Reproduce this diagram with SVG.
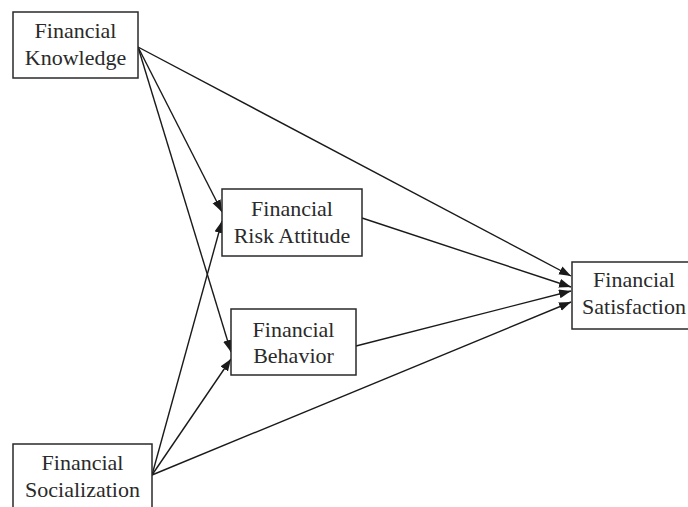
<svg xmlns="http://www.w3.org/2000/svg" width="688" height="507" viewBox="0 0 688 507">
<style>
.box{fill:#fff;stroke:#2a2a2a;stroke-width:1.5}
.t{font-family:"Liberation Serif","Times New Roman",serif;font-size:22px;fill:#2a2a2a;text-anchor:middle}
.c{stroke:#1a1a1a;stroke-width:1.4;fill:none;marker-end:url(#ah)}
</style>
<defs>
<marker id="ah" markerUnits="userSpaceOnUse" markerWidth="13" markerHeight="10" refX="12" refY="4.5" orient="auto">
<path d="M0,0 L12,4.5 L0,9 z" fill="#1a1a1a"/>
</marker>
</defs>
<rect width="688" height="507" fill="#fff"/>
<g id="connectors">
<line class="c" x1="138" y1="47" x2="571" y2="276"/>
<line class="c" x1="138" y1="47" x2="222" y2="212"/>
<line class="c" x1="138" y1="47" x2="231" y2="352"/>
<line class="c" x1="152" y1="475" x2="222" y2="221"/>
<line class="c" x1="152" y1="475" x2="231" y2="359"/>
<line class="c" x1="152" y1="475" x2="571" y2="302"/>
<line class="c" x1="362" y1="218" x2="571" y2="287"/>
<line class="c" x1="356" y1="346" x2="571" y2="291"/>
</g>
<g id="knowledge">
<rect class="box" x="13" y="12" width="125" height="66"/>
<text class="t" x="75.5" y="38">Financial</text>
<text class="t" x="75.5" y="65">Knowledge</text>
</g>
<g id="risk">
<rect class="box" x="222" y="189" width="140" height="67"/>
<text class="t" x="292" y="216">Financial</text>
<text class="t" x="292" y="243">Risk Attitude</text>
</g>
<g id="behavior">
<rect class="box" x="231" y="309" width="125" height="66"/>
<text class="t" x="293.5" y="337">Financial</text>
<text class="t" x="293.5" y="363">Behavior</text>
</g>
<g id="satisfaction">
<rect class="box" x="572" y="262" width="126" height="67"/>
<text class="t" x="634" y="287">Financial</text>
<text class="t" x="634" y="314">Satisfaction</text>
</g>
<g id="socialization">
<rect class="box" x="13" y="444" width="139" height="80"/>
<text class="t" x="82.5" y="470">Financial</text>
<text class="t" x="82.5" y="497">Socialization</text>
</g>
</svg>
